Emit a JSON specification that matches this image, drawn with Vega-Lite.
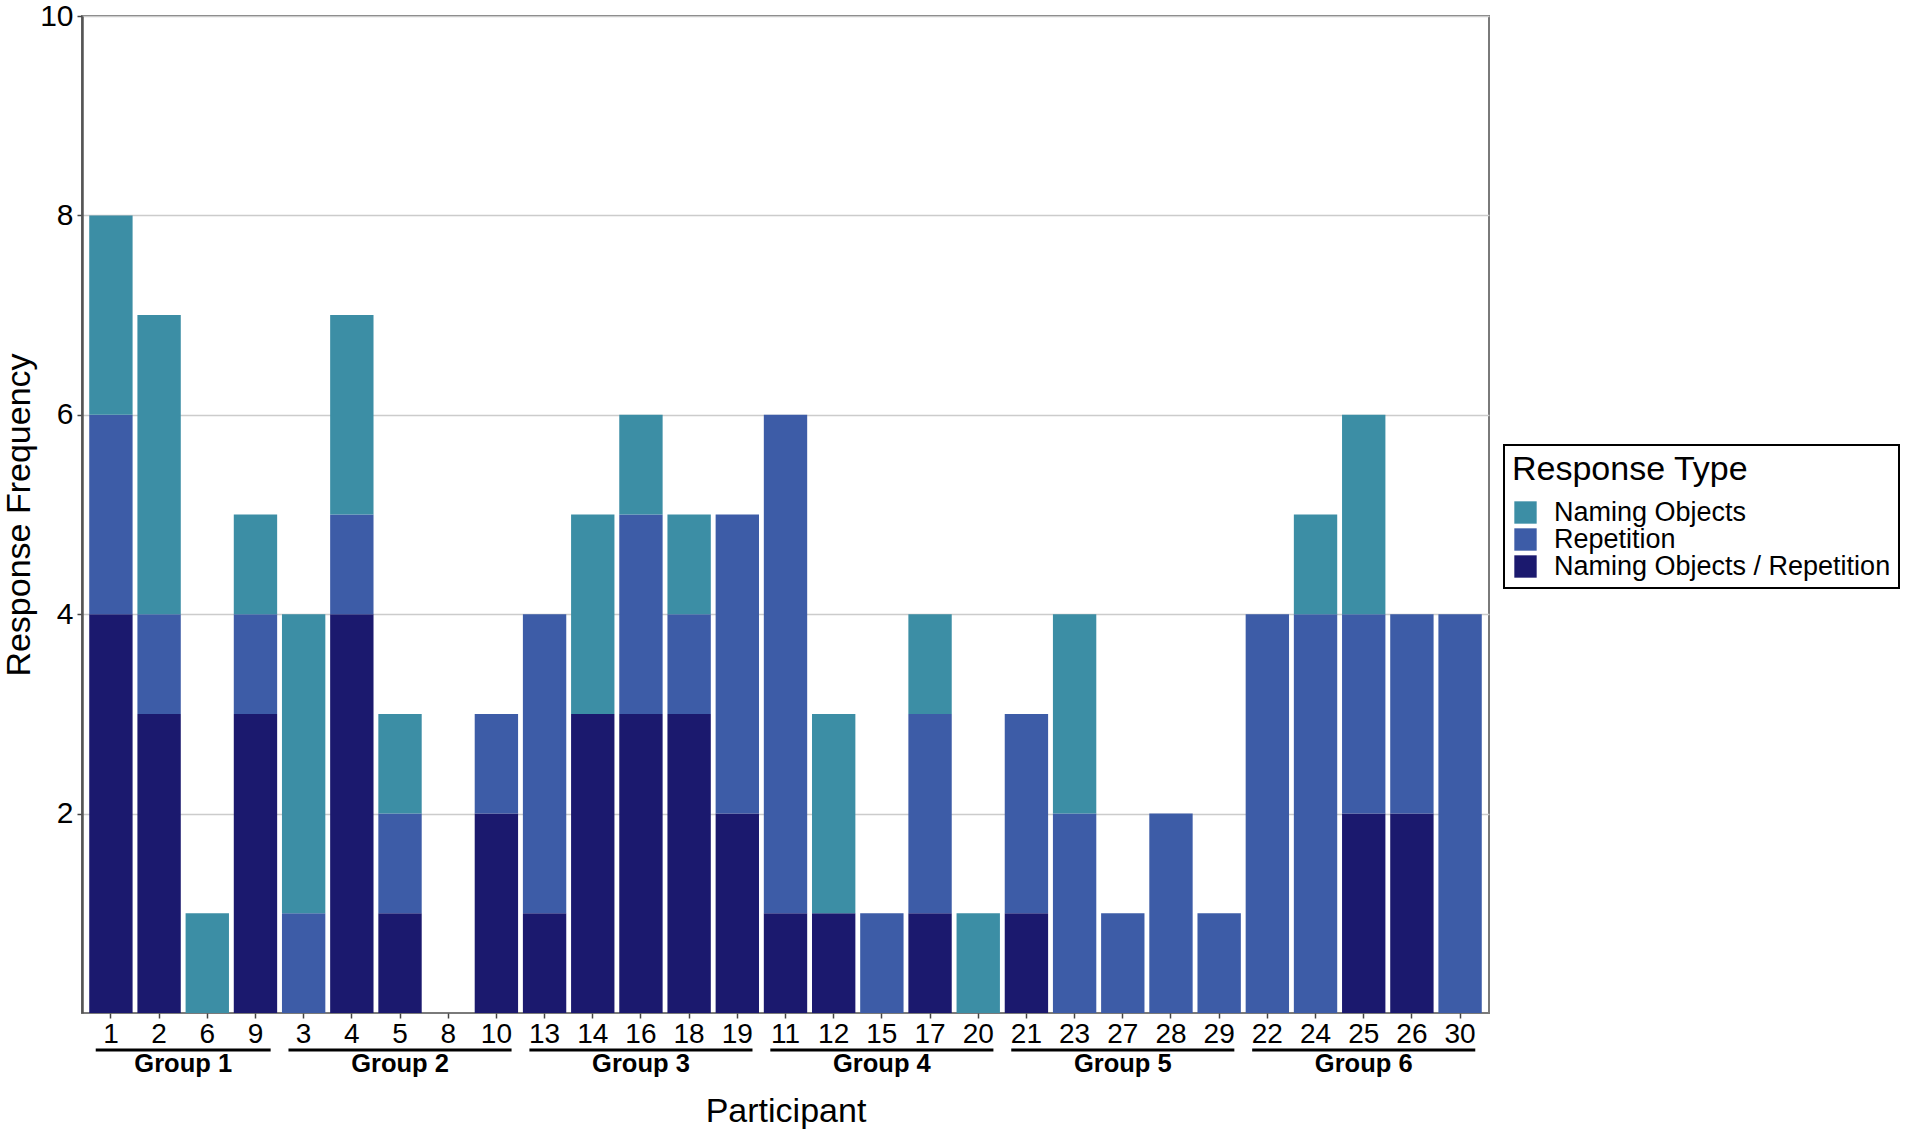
{
  "$schema": "https://vega.github.io/schema/vega-lite/v6.json",
  "width": 1407,
  "height": 997,
  "autosize": {"type": "none"},
  "padding": {"left": 82, "top": 16, "right": 419, "bottom": 121},
  "background": "white",
  "config": {
    "font": "Liberation Sans",
    "view": {"stroke": "#7a7a7a", "strokeWidth": 2},
    "axis": {"labelColor": "black", "titleColor": "black", "titleFontWeight": "normal", "labelFont": "Liberation Sans", "titleFont": "Liberation Sans"},
    "legend": {"strokeWidth": 2}
  },
  "datasets": {
    "responses": [
      {"participant": "1", "type": "Naming Objects / Repetition", "count": 4},
      {"participant": "1", "type": "Repetition", "count": 2},
      {"participant": "1", "type": "Naming Objects", "count": 2},
      {"participant": "2", "type": "Naming Objects / Repetition", "count": 3},
      {"participant": "2", "type": "Repetition", "count": 1},
      {"participant": "2", "type": "Naming Objects", "count": 3},
      {"participant": "6", "type": "Naming Objects", "count": 1},
      {"participant": "9", "type": "Naming Objects / Repetition", "count": 3},
      {"participant": "9", "type": "Repetition", "count": 1},
      {"participant": "9", "type": "Naming Objects", "count": 1},
      {"participant": "3", "type": "Repetition", "count": 1},
      {"participant": "3", "type": "Naming Objects", "count": 3},
      {"participant": "4", "type": "Naming Objects / Repetition", "count": 4},
      {"participant": "4", "type": "Repetition", "count": 1},
      {"participant": "4", "type": "Naming Objects", "count": 2},
      {"participant": "5", "type": "Naming Objects / Repetition", "count": 1},
      {"participant": "5", "type": "Repetition", "count": 1},
      {"participant": "5", "type": "Naming Objects", "count": 1},
      {"participant": "10", "type": "Naming Objects / Repetition", "count": 2},
      {"participant": "10", "type": "Repetition", "count": 1},
      {"participant": "13", "type": "Naming Objects / Repetition", "count": 1},
      {"participant": "13", "type": "Repetition", "count": 3},
      {"participant": "14", "type": "Naming Objects / Repetition", "count": 3},
      {"participant": "14", "type": "Naming Objects", "count": 2},
      {"participant": "16", "type": "Naming Objects / Repetition", "count": 3},
      {"participant": "16", "type": "Repetition", "count": 2},
      {"participant": "16", "type": "Naming Objects", "count": 1},
      {"participant": "18", "type": "Naming Objects / Repetition", "count": 3},
      {"participant": "18", "type": "Repetition", "count": 1},
      {"participant": "18", "type": "Naming Objects", "count": 1},
      {"participant": "19", "type": "Naming Objects / Repetition", "count": 2},
      {"participant": "19", "type": "Repetition", "count": 3},
      {"participant": "11", "type": "Naming Objects / Repetition", "count": 1},
      {"participant": "11", "type": "Repetition", "count": 5},
      {"participant": "12", "type": "Naming Objects / Repetition", "count": 1},
      {"participant": "12", "type": "Naming Objects", "count": 2},
      {"participant": "15", "type": "Repetition", "count": 1},
      {"participant": "17", "type": "Naming Objects / Repetition", "count": 1},
      {"participant": "17", "type": "Repetition", "count": 2},
      {"participant": "17", "type": "Naming Objects", "count": 1},
      {"participant": "20", "type": "Naming Objects", "count": 1},
      {"participant": "21", "type": "Naming Objects / Repetition", "count": 1},
      {"participant": "21", "type": "Repetition", "count": 2},
      {"participant": "23", "type": "Repetition", "count": 2},
      {"participant": "23", "type": "Naming Objects", "count": 2},
      {"participant": "27", "type": "Repetition", "count": 1},
      {"participant": "28", "type": "Repetition", "count": 2},
      {"participant": "29", "type": "Repetition", "count": 1},
      {"participant": "22", "type": "Repetition", "count": 4},
      {"participant": "24", "type": "Repetition", "count": 4},
      {"participant": "24", "type": "Naming Objects", "count": 1},
      {"participant": "25", "type": "Naming Objects / Repetition", "count": 2},
      {"participant": "25", "type": "Repetition", "count": 2},
      {"participant": "25", "type": "Naming Objects", "count": 2},
      {"participant": "26", "type": "Naming Objects / Repetition", "count": 2},
      {"participant": "26", "type": "Repetition", "count": 2},
      {"participant": "30", "type": "Repetition", "count": 4}
    ],
    "groups": [
      {"group": "Group 1", "first": "1", "last": "9", "mid": "2"},
      {"group": "Group 2", "first": "3", "last": "10", "mid": "5"},
      {"group": "Group 3", "first": "13", "last": "19", "mid": "16"},
      {"group": "Group 4", "first": "11", "last": "20", "mid": "15"},
      {"group": "Group 5", "first": "21", "last": "29", "mid": "27"},
      {"group": "Group 6", "first": "22", "last": "30", "mid": "25"}
    ]
  },
  "encoding": {
    "x": {
      "field": "participant",
      "type": "nominal",
      "scale": {
        "domain": ["1", "2", "6", "9", "3", "4", "5", "8", "10", "13", "14", "16", "18", "19", "11", "12", "15", "17", "20", "21", "23", "27", "28", "29", "22", "24", "25", "26", "30"],
        "paddingInner": 0.1,
        "paddingOuter": 0.15
      },
      "axis": {
        "title": "Participant",
        "titleFontSize": 34,
        "titlePadding": 46,
        "labelAngle": 0,
        "labelFontSize": 28,
        "labelPadding": 2,
        "tickSize": 5,
        "tickColor": "#444",
        "tickWidth": 1.5,
        "domain": false,
        "grid": false
      }
    }
  },
  "layer": [
    {
      "data": {"name": "responses"},
      "transform": [
        {"calculate": "indexof(['Naming Objects / Repetition', 'Repetition', 'Naming Objects'], datum.type)", "as": "stackOrder"}
      ],
      "mark": {"type": "bar"},
      "encoding": {
        "y": {
          "field": "count",
          "type": "quantitative",
          "stack": "zero",
          "scale": {"domain": [0, 10], "nice": false},
          "axis": {
            "title": "Response Frequency",
            "titleFontSize": 34,
            "titlePadding": 3,
            "values": [2, 4, 6, 8, 10],
            "format": "d",
            "labelFontSize": 30,
            "labelPadding": 4,
            "tickSize": 5,
            "tickColor": "#444",
            "tickWidth": 1.5,
            "domainColor": "#555",
            "domainWidth": 2.5,
            "gridColor": "#cccccc",
            "gridWidth": 1.5
          }
        },
        "order": {"field": "stackOrder", "type": "quantitative", "sort": "ascending"},
        "color": {
          "field": "type",
          "type": "nominal",
          "scale": {
            "domain": ["Naming Objects", "Repetition", "Naming Objects / Repetition"],
            "range": ["#3c8ea5", "#3d5ca7", "#1b196e"]
          },
          "legend": {
            "title": "Response Type",
            "orient": "none",
            "legendX": 1422,
            "legendY": 429,
            "titleFontSize": 34,
            "titleFontWeight": "normal",
            "titleColor": "black",
            "titlePadding": 12,
            "titleLimit": 0,
            "labelFontSize": 27,
            "labelColor": "black",
            "labelLimit": 0,
            "labelOffset": 15,
            "symbolType": "square",
            "symbolSize": 500,
            "symbolStrokeWidth": 0,
            "rowPadding": -2,
            "padding": 8,
            "strokeColor": "black"
          }
        }
      }
    },
    {
      "data": {"name": "groups"},
      "mark": {"type": "rule", "strokeWidth": 3, "color": "black"},
      "encoding": {
        "x": {"field": "first", "type": "nominal", "bandPosition": 0.15},
        "x2": {"field": "last", "bandPosition": 0.85},
        "y": {"datum": -0.37}
      }
    },
    {
      "data": {"name": "groups"},
      "transform": [{"filter": "datum.group != 'Group 1'"}],
      "mark": {"type": "text", "fontSize": 25.5, "fontWeight": "bold", "color": "black", "baseline": "alphabetic"},
      "encoding": {
        "x": {"field": "mid", "type": "nominal", "bandPosition": 0.5},
        "y": {"datum": -0.59},
        "text": {"field": "group"}
      }
    },
    {
      "data": {"name": "groups"},
      "transform": [{"filter": "datum.group == 'Group 1'"}],
      "mark": {"type": "text", "fontSize": 25.5, "fontWeight": "bold", "color": "black", "baseline": "alphabetic"},
      "encoding": {
        "x": {"field": "mid", "type": "nominal", "bandPosition": 1.0556},
        "y": {"datum": -0.59},
        "text": {"field": "group"}
      }
    }
  ]
}
